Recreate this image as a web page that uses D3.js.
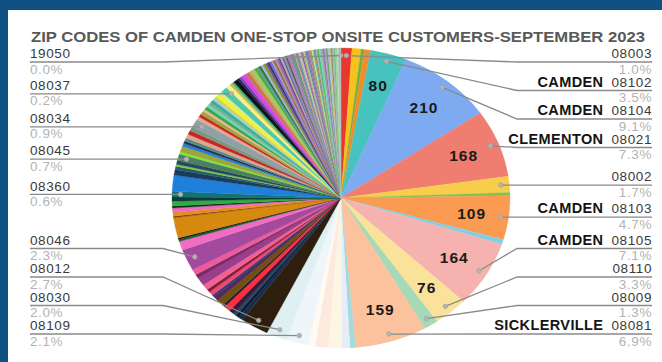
<!DOCTYPE html>
<html>
<head>
<meta charset="utf-8">
<script src="https://cdn.jsdelivr.net/npm/d3@7"></script>
<style>
  body { margin: 0; background: #fff; }
  svg { display: block; font-family: "Liberation Sans", Arial, sans-serif; }
</style>
</head>
<body>
<svg id="chart" width="662" height="362"></svg>
<script>
const title = "ZIP CODES OF CAMDEN ONE-STOP ONSITE CUSTOMERS-SEPTEMBER 2023";

// slices clockwise from 12 o'clock; '' = zip not labelled in the picture
const zips = [
  '08003', '', '', '', '08102', '08104', '08021', '08002', '', '08103', '', '08105', '08110', '08009', '08081',
  '', '', '', '', '', '08109', '08030', '08012',
  '', '', '', '', '', '', '', '', '', '', '', '', '', '', '', '08046',
  '', '', '', '', '', '', '', '', '', '', '08360',
  '', '', '', '', '', '08045',
  '', '', '', '', '', '', '', '', '08034',
  '', '', '', '', '', '', '', '', '', '', '', '', '', '08037',
  '', '', '', '', '', '', '', '', '', '', '', '', '', '', '', '', '', '', '', '', '', '', '', '', '', '',
  '', '', '', '', '', '', '', '', '', '', '', '', '', '', '', '', '', '', '', '', '', '', '', '', '', '',
  '', '', '', '', '', '', '', '', '', '', '', '19050'
];
const values = [
  24, 20, 7, 14, 80, 210, 168, 40, 8, 109, 11, 164, 76, 31, 159,
  12, 18, 30, 28, 16, 48, 46, 62,
  10, 8, 6, 12, 14, 6, 16, 12, 5, 10, 8, 14, 20, 10, 14, 53,
  22, 5, 4, 50, 4, 10, 10, 5, 12, 10, 14,
  40, 14, 8, 5, 10, 16,
  6, 14, 8, 6, 8, 10, 10, 10, 21,
  8, 7, 9, 6, 8, 7, 6, 8, 5, 6, 10, 6, 10, 5,
  10, 6, 5, 10, 5, 6, 8, 5, 7, 6, 8, 6, 5, 5, 5, 6, 5, 4, 5, 4, 5, 4, 4, 4, 4, 4,
  4, 4, 4, 4, 4, 4, 3, 3, 3, 3, 3, 3, 3, 3, 3, 3, 3, 3, 3, 3, 3, 3, 3, 4, 4, 4,
  4, 3, 4, 3, 4, 3, 3, 4, 4, 3, 4, 1
];
const cityZips = ['08102', '08104', '08021', '08103', '08105', '08081'];
const cityNames = ['CAMDEN', 'CAMDEN', 'CLEMENTON', 'CAMDEN', 'CAMDEN', 'SICKLERVILLE'];

const sliceColors = [
  '#e8372f', '#f7c21b', '#6fb23f', '#f08c2a', '#48c2bf', '#7eaaf2', '#ef7d70', '#f8cd4c', '#86c24f', '#fb9b52',
  '#7fd0e6', '#f5b2af', '#fbe29a', '#a6d9b6', '#fcc29e',
  '#a3dadc', '#e6ecf8', '#fdf6e2', '#fde9de', '#fffaf2', '#eef6f9', '#dff0f3', '#2d1e0d',
  '#1c2b49', '#0e1c3a', '#1b4a5a', '#3c1a3c', '#ff2d3d', '#2a1a2a', '#6f500f', '#552a56', '#2b3b7b', '#e84a72',
  '#8b1a3a', '#f06292', '#9c3c8c', '#7b2a6a', '#ef5a9a', '#a44a9e',
  '#f36cc4', '#1b5e3b', '#1a1a1a', '#d5890f', '#8b3a1a', '#e0911c', '#f06bc0', '#0d2a1a', '#2fae3e', '#0b3b3b', '#137272',
  '#1f80dc', '#1d3a5c', '#1f5f6a', '#8bc34a', '#234d5a', '#4d8060',
  '#7fe33a', '#9aa83a', '#2a7fd4', '#22304a', '#5a8a8a', '#d9a78a', '#c8242a', '#7a9a7a', '#8fa0a8',
  '#e0a890', '#c62828', '#9ea83a', '#e8b4a0', '#3aa84a', '#70d4b8', '#8aa88a', '#2eb39a', '#a7c7e7', '#c8d850',
  '#f2ee3a', '#d8ec8a', '#48c8a8', '#4cc0a0',
  '#f5f08a', '#c0c040', '#30b0a0', '#111111', '#1a2a4a', '#8040c0', '#e040e0', '#c060c0', '#c87a30', '#d0a070',
  '#98d060', '#4aaa3a', '#5a9a9a', '#2a6a3a', '#a0b8d0', '#889a30', '#7a50a0', '#303050', '#6a6ad0', '#b090d0',
  '#a06a3a', '#9a9a9a', '#9a60b0', '#7040a0', '#c8b080', '#4a70c0', '#b080a0', '#3a6a4a', '#c070c0', '#a080c0',
  '#6a8aa0', '#60a050', '#e090b0', '#8a7aa0', '#40a0a0', '#d0b090', '#c0c0c0', '#9050c0', '#a0a060', '#b0d090',
  '#808090', '#6080c0', '#a070b0', '#c08080', '#70b070', '#e0e070', '#50b0b0', '#a08060', '#b0b0b0', '#40c060',
  '#80d0c0', '#8ab0a0', '#9a70b0', '#c0a0d0', '#70a070', '#a0c0e0', '#d0c080', '#6a9a6a', '#b0b0d0', '#80c080',
  '#a0d0a0', '#c0d0c0', '#90c0b0', '#c0c0c0'
];

const W = 662, H = 362;
const cx = 341, cy = 198, ry = 150, rx = 169, sx = rx / ry;
const labelTop = 62, labelBottom = 334, labelGap = 28.5;
const rightEnd = 652, rightElbow = 517, leftStart = 30, leftElbow = 163;

const svg = d3.select('#chart');
svg.append('rect').attr('width', W).attr('height', H).attr('fill', '#fff');
svg.append('rect').attr('width', 8).attr('height', H).attr('fill', '#0f5183');
svg.append('rect').attr('width', W).attr('height', 10).attr('fill', '#0f5183');

svg.append('text')
  .attr('x', 31).attr('y', 42)
  .attr('textLength', 614).attr('lengthAdjust', 'spacingAndGlyphs')
  .style('font-size', '15px').style('font-weight', 'bold')
  .attr('fill', '#595959')
  .text(title);

const total = d3.sum(values);
const data = values.map((v, i) => ({ zip: zips[i], value: v, color: sliceColors[i] }));
const arcs = d3.pie().sort(null).value(d => d.value)(data);

const arc = d3.arc().innerRadius(0).outerRadius(ry);
const pieG = svg.append('g').attr('transform', 'translate(' + cx + ',' + cy + ') scale(' + sx + ',1)');
pieG.selectAll('path')
  .data(arcs)
  .join('path')
  .attr('d', arc)
  .attr('fill', d => d.data.color)
  .attr('stroke', d => d.data.color)
  .attr('stroke-width', 0.3);

// value labels on the big slices
const valueArc = d3.arc().innerRadius(ry * 0.78).outerRadius(ry * 0.78);
svg.append('g').selectAll('text')
  .data(arcs.filter(d => d.data.value >= 70))
  .join('text')
  .attr('x', d => cx + valueArc.centroid(d)[0] * sx)
  .attr('y', d => cy + valueArc.centroid(d)[1])
  .attr('dy', '0.36em')
  .attr('text-anchor', 'middle')
  .style('font-size', '15.5px').style('font-weight', 'bold').style('letter-spacing', '1px')
  .attr('fill', '#1a1a1a')
  .text(d => d.data.value);

// leader labels
const dotArc = d3.arc().innerRadius(ry * 0.95).outerRadius(ry * 0.95);
const labeled = arcs.filter(d => d.data.zip);
labeled.forEach(d => {
  const c = dotArc.centroid(d);
  d.dot = [cx + c[0] * sx, cy + c[1]];
  d.right = (d.startAngle + d.endAngle) / 2 < Math.PI;
});

function spread(list) {
  list.sort((a, b) => a.dot[1] - b.dot[1]);
  let prev = -Infinity;
  list.forEach(d => { d.ly = Math.max(d.dot[1], labelTop, prev + labelGap); prev = d.ly; });
  let next = Infinity;
  for (let i = list.length - 1; i >= 0; i--) {
    list[i].ly = Math.min(list[i].ly, labelBottom, next - labelGap);
    next = list[i].ly;
  }
}
spread(labeled.filter(d => d.right));
spread(labeled.filter(d => !d.right));

const pct = d3.format('.1%');
const lab = svg.append('g');

labeled.forEach(d => {
  let pts;
  if (d.right) {
    pts = [d.dot, [Math.max(d.dot[0], rightElbow), d.ly], [rightEnd, d.ly]];
  } else {
    pts = [d.dot, [Math.min(d.dot[0], leftElbow), d.ly], [leftStart, d.ly]];
  }
  lab.append('path')
    .attr('d', d3.line()(pts))
    .attr('fill', 'none')
    .attr('stroke', '#8a8a8a')
    .attr('stroke-width', 1.3);
  lab.append('circle')
    .attr('cx', d.dot[0]).attr('cy', d.dot[1]).attr('r', 2.3)
    .attr('fill', '#b4b4b4').attr('stroke', '#9a9a9a').attr('stroke-width', 0.5);

  const tx = d.right ? rightEnd : leftStart;
  const anchor = d.right ? 'end' : 'start';
  const zipText = lab.append('text')
    .attr('x', tx).attr('y', d.ly - 3.7)
    .attr('text-anchor', anchor)
    .style('font-size', '13.5px').style('letter-spacing', '0.6px')
    .attr('fill', '#3a3a3a')
    .text(d.data.zip);
  lab.append('text')
    .attr('x', tx).attr('y', d.ly + 11.6)
    .attr('text-anchor', anchor)
    .style('font-size', '13.5px').style('letter-spacing', '0.6px')
    .attr('fill', '#b3b3b3')
    .text(pct(d.data.value / total));

  const ci = cityZips.indexOf(d.data.zip);
  if (ci >= 0) {
    const w = zipText.node().getComputedTextLength();
    lab.append('text')
      .attr('x', tx - w - 8).attr('y', d.ly - 3.7)
      .attr('text-anchor', 'end')
      .style('font-size', '14.5px').style('font-weight', 'bold').style('letter-spacing', '0.4px')
      .attr('fill', '#141414')
      .text(cityNames[ci]);
  }
});
</script>
</body>
</html>
